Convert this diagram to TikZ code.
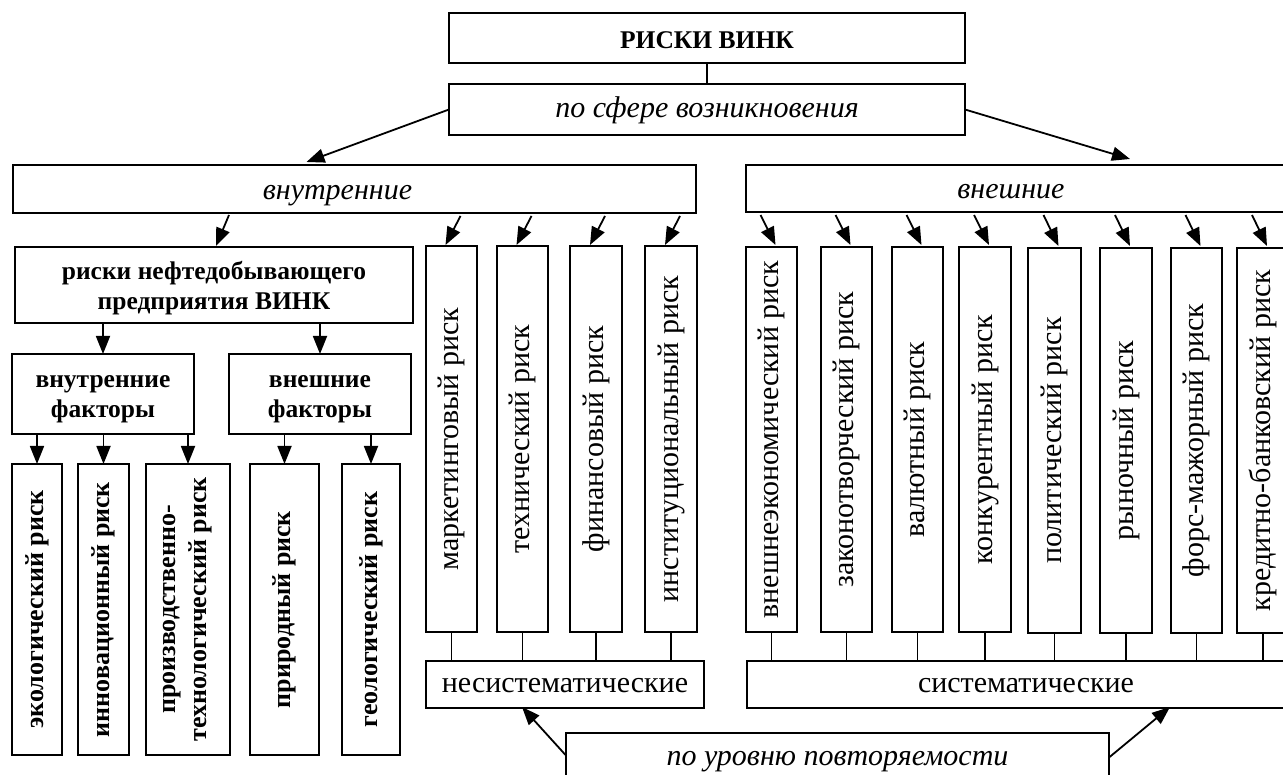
\documentclass[tikz,border=0pt]{standalone}
\usepackage{fontspec}
\setmainfont{Liberation Serif}
\usetikzlibrary{arrows.meta,calc}

\tikzset{
  box/.style={draw, line width=1.8pt, inner sep=0pt, outer sep=0pt, align=center},
  itxt/.style={font=\fontsize{30}{34}\selectfont\itshape, inner sep=0pt, anchor=base},
  rtxt/.style={font=\fontsize{30}{34}\selectfont, inner sep=0pt, anchor=base},
  btxt/.style={font=\fontsize{25.5}{30}\selectfont\bfseries, inner sep=0pt, align=center},
  vtxt/.style={rotate=90, font=\fontsize{30}{34}\selectfont, inner sep=0pt},
  vbtxt/.style={rotate=90, font=\fontsize{26}{31}\selectfont\bfseries, inner sep=0pt, align=center},
  arr/.style={line width=1.8pt, -{Triangle[length=18pt,width=14pt]}},
  link/.style={line width=1.7pt},
}

\begin{document}
\begin{tikzpicture}[x=1pt,y=-1pt]
\useasboundingbox (0,0) rectangle (1283,775);
\fill[white] (0,0) rectangle (1283,775);
\clip (0,0) rectangle (1283,775);

% top of the hierarchy
\node[box, minimum width=516, minimum height=50] (top) at (707,38) {};
\node[btxt, anchor=base] (topT) at ($(top.center)+(0,11)$) {РИСКИ ВИНК};
\node[box, minimum width=516, minimum height=51] (sfera) at (707,109.5) {};
\node[itxt] (sferaT) at ($(sfera.center)+(0,8.5)$) {по сфере возникновения};
\draw[link] (top.south) -- (sfera.north);

% internal / external
\node[box, minimum width=683, minimum height=48] (vnutr) at (354.5,189) {};
\node[itxt] (vnutrT) at ($(vnutr.center)+(-17,11)$) {внутренние};
\node[box, minimum width=544, minimum height=47] (vnesh) at (1018,188.5) {};
\node[itxt] (vneshT) at ($(vnesh.center)+(-7,10.5)$) {внешние};

\draw[arr] (sfera.west) -- ($(vnutr.north)+(-48,-3)$);
\draw[arr] (sfera.east) -- ($(vnesh.north)+(112,-6)$);

% oil-producing enterprise branch
\node[box, minimum width=398, minimum height=76] (nefte) at (214,285) {};
\node[btxt] (nefteT) at ($(nefte.center)+(0,3)$) {риски нефтедобывающего\\предприятия ВИНК};
\node[box, minimum width=182, minimum height=80] (vf) at (103,394) {};
\node[btxt] (vfT) at ($(vf.center)+(0,5)$) {внутренние\\факторы};
\node[box, minimum width=182, minimum height=80] (wf) at (320,394) {};
\node[btxt] (wfT) at ($(wf.center)+(0,5)$) {внешние\\факторы};

\draw[arr] ($(nefte.north |- vnutr.south)+(15,2)$) -- ($(nefte.north)+(2,-1)$);
\draw[arr] (vf.north |- nefte.south) -- (vf.north);
\draw[arr] (wf.north |- nefte.south) -- (wf.north);

\node[box, minimum width=50, minimum height=291] (eko) at (37,609.5) {};
\node[box, minimum width=51, minimum height=291] (inno) at (103.5,609.5) {};
\node[box, minimum width=84, minimum height=291] (proizv) at (188,609.5) {};
\node[box, minimum width=69, minimum height=291] (prir) at (284.5,609.5) {};
\node[box, minimum width=58, minimum height=291] (geol) at (371,609.5) {};
\node[vbtxt] (ekoT) at (eko) {экологический риск};
\node[vbtxt] (innoT) at (inno) {инновационный риск};
\node[vbtxt] (proizvT) at (proizv) {производственно-\\технологический риск};
\node[vbtxt] (prirT) at (prir) {природный риск};
\node[vbtxt] (geolT) at (geol) {геологический риск};

\foreach \n in {eko,inno,proizv} \draw[arr] (\n.north |- vf.south) -- (\n.north);
\foreach \n in {prir,geol} \draw[arr] (\n.north |- wf.south) -- (\n.north);

% unsystematic risks
\node[box, minimum width=51, minimum height=386] (mk) at (451.5,439) {};
\node[box, minimum width=51, minimum height=386] (tech) at (522.5,439) {};
\node[box, minimum width=52, minimum height=386] (fin) at (596,439) {};
\node[box, minimum width=52, minimum height=386] (inst) at (671,439) {};
\node[vtxt] (mkT) at (mk) {маркетинговый риск};
\node[vtxt] (techT) at (tech) {технический риск};
\node[vtxt] (finT) at (fin) {финансовый риск};
\node[vtxt] (instT) at (inst) {институциональный риск};

\foreach \n in {mk,tech,fin,inst}
  \draw[arr] ($(\n.north |- vnutr.south)+(9,3)$) -- ($(\n.north)+(-6,-1)$);

\node[box, minimum width=278, minimum height=47] (nesist) at (565,684.5) {};
\node[rtxt] (nesistT) at ($(nesist.center)+(0,7.5)$) {несистематические};
\foreach \n in {mk,tech,fin,inst} \draw[link] (\n.south) -- (\n.south |- nesist.north);

% systematic risks
\node[box, minimum width=51, minimum height=385] (e1) at (771.5,439.5) {};
\node[box, minimum width=51, minimum height=385] (e2) at (846.5,439.5) {};
\node[box, minimum width=51, minimum height=385] (e3) at (917.5,439.5) {};
\node[box, minimum width=52, minimum height=385] (e4) at (985,439.5) {};
\node[box, minimum width=53, minimum height=385] (e5) at (1054.5,440.5) {};
\node[box, minimum width=52, minimum height=385] (e6) at (1126,440.5) {};
\node[box, minimum width=51, minimum height=385] (e7) at (1196.5,440.5) {};
\node[box, minimum width=52, minimum height=385] (e8) at (1263,440.5) {};
\node[vtxt] (e1T) at (e1) {внешнеэкономический риск};
\node[vtxt] (e2T) at (e2) {законотворческий риск};
\node[vtxt] (e3T) at (e3) {валютный риск};
\node[vtxt] (e4T) at (e4) {конкурентный риск};
\node[vtxt] (e5T) at (e5) {политический риск};
\node[vtxt] (e6T) at (e6) {рыночный риск};
\node[vtxt] (e7T) at (e7) {форс-мажорный риск};
\node[vtxt] (e8T) at (e8) {кредитно-банковский риск};

\foreach \n in {e1,e2,e3,e4,e5,e6,e7,e8}
  \draw[arr] ($(\n.north |- vnesh.south)+(-11,3)$) -- ($(\n.north)+(4,-2)$);

\node[box, minimum width=558, minimum height=47] (sist) at (1026,684.5) {};
\node[rtxt] (sistT) at ($(sist.center)+(0,7.5)$) {систематические};
\foreach \n in {e1,e2,e3,e4,e5,e6,e7,e8} \draw[link] (\n.south) -- (\n.south |- sist.north);

% classification by recurrence
\node[box, minimum width=543, minimum height=57] (povtor) at (837.5,761.5) {};
\node[itxt] (povtorT) at ($(povtor.center)+(0,3.5)$) {по уровню повторяемости};
\draw[arr] ($(povtor.west)+(0,-6)$) -- ($(nesist.south)+(-43,-1)$);
\draw[arr] ($(povtor.east)+(0,-4)$) -- ($(sist.south)+(144,-1)$);
\end{tikzpicture}
\end{document}
